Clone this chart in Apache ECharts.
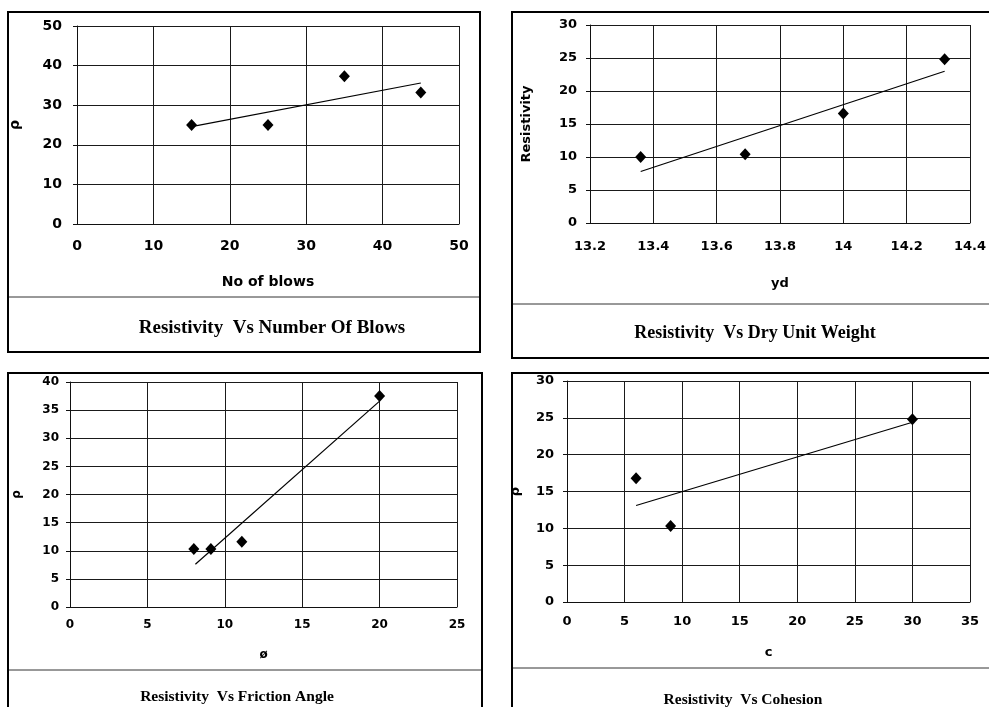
<!DOCTYPE html>
<html>
<head>
<meta charset="utf-8">
<script src="https://cdn.jsdelivr.net/npm/echarts@6/dist/echarts.min.js"></script>
<style>html,body{margin:0;padding:0;background:#fff;}#c{width:989px;height:707px;}</style>
</head>
<body>
<div id="c"></div>
<script>
// Panel 1: Resistivity vs Number of Blows
const blows = [15, 25, 35, 45];
const rhoBlows = [25, 25, 37.3, 33.2];
const trendBlowsX = [15, 45];
const trendBlowsY = [24.6, 35.6];
// Panel 2: Resistivity vs Dry Unit Weight
const dryUnitWeight = [13.36, 13.69, 14.0, 14.32];
const rhoDry = [10, 10.4, 16.6, 24.8];
const trendDryX = [13.36, 14.32];
const trendDryY = [7.8, 23.0];
// Panel 3: Resistivity vs Friction Angle
const frictionAngle = [8, 9.1, 11.1, 20];
const rhoFriction = [10.3, 10.3, 11.6, 37.5];
const trendFrictionX = [8.1, 20];
const trendFrictionY = [7.6, 36.6];
// Panel 4: Resistivity vs Cohesion
const cohesion = [6, 9, 30];
const rhoCohesion = [16.8, 10.3, 24.8];
const trendCohesionX = [6, 30];
const trendCohesionY = [13.1, 24.4];

const titles = ['Resistivity  Vs Number Of Blows', 'Resistivity  Vs Dry Unit Weight', 'Resistivity  Vs Friction Angle', 'Resistivity  Vs Cohesion'];
const xNames = ['No of blows', 'yd', 'ø', 'c'];
const yNames = ['ρ', 'Resistivity', 'ρ', 'ρ'];
const xRanges = [[0, 50, 10], [13.2, 14.4, 0.2], [0, 25, 5], [0, 35, 5]];
const yRanges = [[0, 50, 10], [0, 30, 5], [0, 40, 5], [0, 30, 5]];

const pts = (xs, ys) => xs.map((x, i) => [x, ys[i]]);
const scatterData = [pts(blows, rhoBlows), pts(dryUnitWeight, rhoDry), pts(frictionAngle, rhoFriction), pts(cohesion, rhoCohesion)];
const trendData = [pts(trendBlowsX, trendBlowsY), pts(trendDryX, trendDryY), pts(trendFrictionX, trendFrictionY), pts(trendCohesionX, trendCohesionY)];

const grids = [
  {left: 77, top: 26, width: 382, height: 198},
  {left: 590, top: 25, width: 387, height: 198},
  {left: 70, top: 382, width: 387, height: 225},
  {left: 567, top: 381, width: 403, height: 221}
];
const fontSizes = [14, 13, 12, 13];
const xLabelMargin = [15, 17, 12, 13];
const yLabelMargin = [15, 13, 11, 13];
const xNameGap = [51, 54, 42, 44];
const yNameGap = [55, 57, 47, 45];
const tickFont = 'DejaVu Sans';

const xAxis = [], yAxis = [], series = [];
for (let i = 0; i < 4; i++) {
  xAxis.push({
    type: 'value', gridIndex: i, min: xRanges[i][0], max: xRanges[i][1], interval: xRanges[i][2],
    name: xNames[i], nameLocation: 'middle', nameGap: xNameGap[i],
    nameTextStyle: {fontFamily: tickFont, fontWeight: 'bold', fontSize: fontSizes[i], color: '#000'},
    axisLine: {show: true, lineStyle: {color: '#111', width: 1}},
    axisTick: {show: false},
    axisLabel: {fontFamily: tickFont, fontWeight: 'bold', fontSize: fontSizes[i], color: '#000', margin: xLabelMargin[i]},
    splitLine: {show: true, lineStyle: {color: '#1a1a1a', width: 1}}
  });
  yAxis.push({
    type: 'value', gridIndex: i, min: yRanges[i][0], max: yRanges[i][1], interval: yRanges[i][2],
    name: yNames[i], nameLocation: 'middle', nameGap: yNameGap[i], nameRotate: 90,
    nameTextStyle: {fontFamily: tickFont, fontWeight: 'bold', fontSize: fontSizes[i], color: '#000'},
    axisLine: {show: true, lineStyle: {color: '#111', width: 1}},
    axisTick: {show: true, length: 4, lineStyle: {color: '#111'}},
    axisLabel: {fontFamily: tickFont, fontWeight: 'bold', fontSize: fontSizes[i], color: '#000', margin: yLabelMargin[i]},
    splitLine: {show: true, lineStyle: {color: '#1a1a1a', width: 1}}
  });
  series.push({
    type: 'line', xAxisIndex: i, yAxisIndex: i, data: trendData[i], showSymbol: false, symbol: 'none',
    lineStyle: {color: '#000', width: 1.2}, silent: true, animation: false, z: 3
  });
  series.push({
    type: 'scatter', xAxisIndex: i, yAxisIndex: i, data: scatterData[i], symbol: 'diamond', symbolSize: [11, 12],
    itemStyle: {color: '#000', opacity: 1}, animation: false, z: 4
  });
}

const titleFont = 'Liberation Serif';
const graphic = [
  {type: 'rect', shape: {x: 8, y: 12, width: 472, height: 340}, style: {fill: 'none', stroke: '#000', lineWidth: 2}},
  {type: 'rect', shape: {x: 512, y: 12, width: 490, height: 346}, style: {fill: 'none', stroke: '#000', lineWidth: 2}},
  {type: 'rect', shape: {x: 8, y: 373, width: 474, height: 350}, style: {fill: 'none', stroke: '#000', lineWidth: 2}},
  {type: 'rect', shape: {x: 512, y: 373, width: 490, height: 350}, style: {fill: 'none', stroke: '#000', lineWidth: 2}},
  {type: 'line', shape: {x1: 9, y1: 297, x2: 479, y2: 297}, style: {stroke: '#333', lineWidth: 1}},
  {type: 'line', shape: {x1: 513, y1: 304, x2: 989, y2: 304}, style: {stroke: '#333', lineWidth: 1}},
  {type: 'line', shape: {x1: 9, y1: 670, x2: 481, y2: 670}, style: {stroke: '#333', lineWidth: 1}},
  {type: 'line', shape: {x1: 513, y1: 668, x2: 989, y2: 668}, style: {stroke: '#333', lineWidth: 1}},
  {type: 'text', x: 272, y: 328, style: {text: titles[0], font: 'bold 19px "' + titleFont + '"', fill: '#000', textAlign: 'center', textVerticalAlign: 'middle'}},
  {type: 'text', x: 755, y: 333, style: {text: titles[1], font: 'bold 18px "' + titleFont + '"', fill: '#000', textAlign: 'center', textVerticalAlign: 'middle'}},
  {type: 'text', x: 237, y: 697, style: {text: titles[2], font: 'bold 15.5px "' + titleFont + '"', fill: '#000', textAlign: 'center', textVerticalAlign: 'middle'}},
  {type: 'text', x: 743, y: 700, style: {text: titles[3], font: 'bold 15.5px "' + titleFont + '"', fill: '#000', textAlign: 'center', textVerticalAlign: 'middle'}}
];

const chart = echarts.init(document.getElementById('c'), null, {renderer: 'canvas'});
chart.setOption({
  backgroundColor: '#fff',
  animation: false,
  grid: grids,
  xAxis: xAxis,
  yAxis: yAxis,
  series: series,
  graphic: graphic
});
</script>
</body>
</html>
